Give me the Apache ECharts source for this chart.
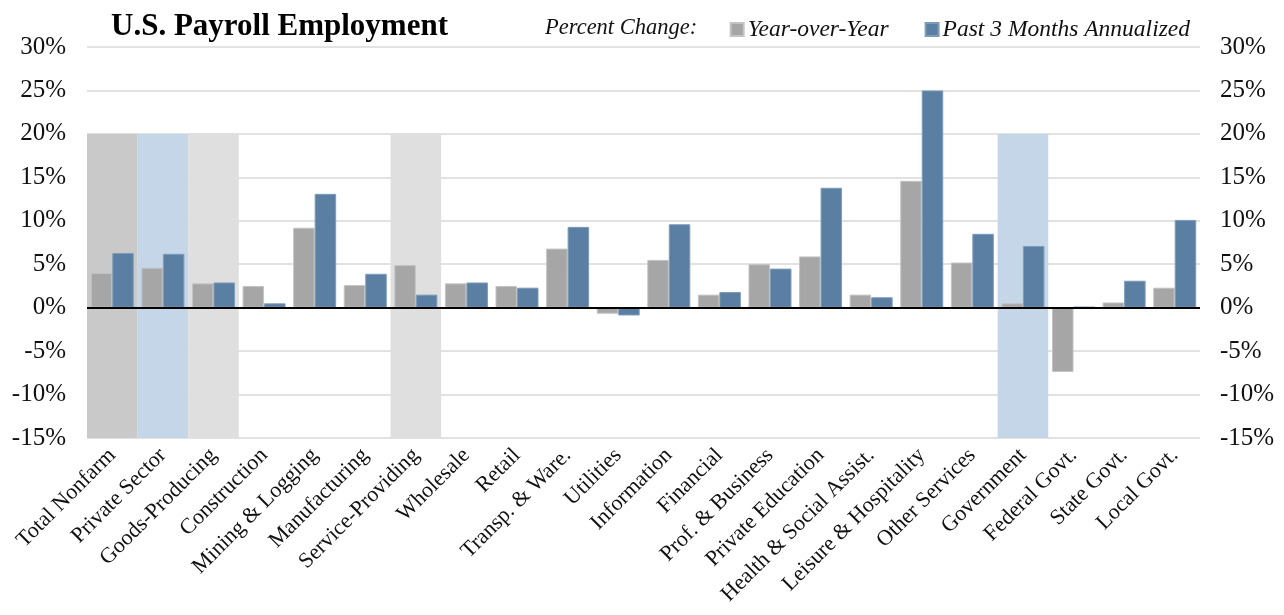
<!DOCTYPE html>
<html>
<head>
<meta charset="utf-8">
<script src="https://cdn.jsdelivr.net/npm/echarts@6/dist/echarts.min.js"></script>
<style>
html,body{margin:0;padding:0;background:#fff;}
#chart{width:1284px;height:615px;}
</style>
</head>
<body>
<div id="chart"></div>
<script>
const categories = ['Total Nonfarm','Private Sector','Goods-Producing','Construction','Mining & Logging','Manufacturing','Service-Providing','Wholesale','Retail','Transp. & Ware.','Utilities','Information','Financial','Prof. & Business','Private Education','Health & Social Assist.','Leisure & Hospitality','Other Services','Government','Federal Govt.','State Govt.','Local Govt.'];
const yearOverYear = [4.0, 4.6, 2.8, 2.5, 9.2, 2.6, 4.9, 2.8, 2.5, 6.8, -0.7, 5.5, 1.5, 5.0, 5.9, 1.5, 14.6, 5.2, 0.5, -7.4, 0.6, 2.3];
const past3MonthsAnnualized = [6.3, 6.2, 2.9, 0.5, 13.1, 3.9, 1.5, 2.9, 2.3, 9.3, -0.9, 9.6, 1.8, 4.5, 13.8, 1.2, 25.0, 8.5, 7.1, 0.1, 3.1, 10.1];
// shaded highlight bands: category -> kind
const shadedCategories = {'Total Nonfarm':'total','Private Sector':'sector','Goods-Producing':'group','Service-Providing':'group','Government':'sector'};
const shadeTop = 20, shadeBottom = -15;
const yTicks = {min: -15, max: 30, interval: 5};

const shadeColors = {total:'#c9c9c9', sector:'#c5d6e8', group:'#dfdfdf'};
const FONT = "'Liberation Serif', 'DejaVu Serif', serif";

function shadeData(v){
  return categories.map(c => shadedCategories[c] ? {value: v, itemStyle:{color: shadeColors[shadedCategories[c]]}} : '-');
}

const chart = echarts.init(document.getElementById('chart'), null, {renderer:'canvas'});
const yAxisBase = {
  type:'value', min:yTicks.min, max:yTicks.max, interval:yTicks.interval,
  axisLine:{show:false}, axisTick:{show:false},
  axisLabel:{formatter:'{value}%', fontFamily:FONT, fontSize:25, color:'#111', margin:21}
};
chart.setOption({
  animation:false,
  backgroundColor:'#fff',
  title:[
    {text:'U.S. Payroll Employment', left:106, top:6, textStyle:{fontFamily:FONT, fontWeight:'bold', fontSize:31, color:'#000'}},
    {text:'Percent Change:', left:540, top:12, textStyle:{fontFamily:FONT, fontStyle:'italic', fontWeight:'normal', fontSize:22.5, color:'#111'}}
  ],
  legend:{
    data:['Year-over-Year','Past 3 Months Annualized'],
    right:89, top:13, itemWidth:13, itemHeight:13, itemGap:36,
    icon:'rect',
    textStyle:{fontFamily:FONT, fontStyle:'italic', fontSize:23.5, color:'#111', padding:[0,0,0,-1]}
  },
  grid:{left:87, right:84, top:47, bottom:177, containLabel:false},
  xAxis:[
    {type:'category', data:categories, position:'bottom',
     axisLine:{show:false}, axisTick:{show:false},
     axisLabel:{interval:0, rotate:45, fontFamily:FONT, fontSize:22, color:'#111', margin:14}},
    {type:'category', data:categories, show:false}
  ],
  yAxis:[
    Object.assign({}, yAxisBase, {position:'left', splitLine:{show:true, lineStyle:{color:'#d9d9d9', width:1.5}}}),
    Object.assign({}, yAxisBase, {position:'right', splitLine:{show:false}, axisLabel:Object.assign({}, yAxisBase.axisLabel, {margin:20})})
  ],
  series:[
    {name:'shadeTop', type:'bar', xAxisIndex:1, yAxisIndex:0, stack:'shade', barWidth:'100%', silent:true, data:shadeData(shadeTop), z:1},
    {name:'shadeBottom', type:'bar', xAxisIndex:1, yAxisIndex:0, stack:'shade', barWidth:'100%', silent:true, data:shadeData(shadeBottom), z:1},
    {name:'Year-over-Year', type:'bar', data:yearOverYear, barGap:'0%', barCategoryGap:'15%',
     itemStyle:{color:'#a6a6a6', borderColor:'#c4c4c4', borderWidth:1}, z:3,
     markLine:{silent:true, symbol:['none','none'], label:{show:false},
       lineStyle:{color:'#000', width:2, type:'solid'}, data:[{yAxis:0}], z:5}},
    {name:'Past 3 Months Annualized', type:'bar', data:past3MonthsAnnualized, barGap:'0%', barCategoryGap:'15%',
     itemStyle:{color:'#5b7fa3', borderColor:'#7e9cba', borderWidth:1}, z:3}
  ]
});
</script>
</body>
</html>
